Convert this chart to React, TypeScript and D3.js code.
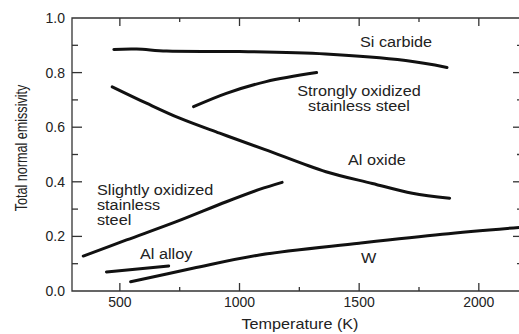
import * as d3 from "d3";
import { useRef, useEffect } from "react";

// series: [temperature K, emissivity]
const siCarbide = [[475, 0.885], [570, 0.886], [695, 0.879], [1000, 0.877], [1360, 0.868], [1694, 0.844], [1867, 0.819]];
const strongSteel = [[808, 0.675], [945, 0.724], [1111, 0.767], [1322, 0.800]];
const alOxide = [[468, 0.748], [611, 0.688], [750, 0.633], [917, 0.578], [1104, 0.519], [1361, 0.437], [1555, 0.394], [1722, 0.358], [1878, 0.340]];
const slightSteel = [[347, 0.128], [528, 0.187], [736, 0.254], [945, 0.327], [1083, 0.372], [1178, 0.398]];
const alAlloy = [[444, 0.070], [704, 0.092]];
const tungsten = [[545, 0.034], [805, 0.083], [1083, 0.132], [1500, 0.175], [1847, 0.208], [2170, 0.233]];

const xTicks = [500, 1000, 1500, 2000];
const xMinor = [750, 1250, 1750];
const yTicks = [0, 0.2, 0.4, 0.6, 0.8, 1.0];
const yMinor = [0.1, 0.3, 0.5, 0.7, 0.9];

const labels = [
  { lines: ["Si carbide"], x: 360, y: 47, anchor: "start" },
  { lines: ["Strongly oxidized", "stainless steel"], x: 359, y: 96, anchor: "middle" },
  { lines: ["Al oxide"], x: 348, y: 165, anchor: "start" },
  { lines: ["Slightly oxidized", "stainless", "steel"], x: 97, y: 195, anchor: "start" },
  { lines: ["Al alloy"], x: 140, y: 259, anchor: "start" },
  { lines: ["W"], x: 361, y: 263, anchor: "start" },
];

const width = 519;
const height = 334;

export default function App() {
  const ref = useRef(null);

  useEffect(() => {
    const svg = d3.select(ref.current);
    svg.selectAll("*").remove();

    const x = d3.scaleLinear().domain([300, 2170]).range([72, 519.5]);
    const y = d3.scaleLinear().domain([0, 1]).range([291, 18]);
    const axisColor = "#333";
    const font = "'Liberation Sans', Arial, sans-serif";

    const frame = svg.append("g");
    frame.append("path")
      .attr("d", `M${x.range()[1]},${y(1)}H${x(300)}V${y(0)}H${x.range()[1]}`)
      .attr("fill", "none")
      .attr("stroke", axisColor)
      .attr("stroke-width", 1.3);

    // x ticks, bottom and top, pointing in
    const xt = xTicks.map(d => ({ d, len: 8 })).concat(xMinor.map(d => ({ d, len: 4 })));
    frame.selectAll(".xb").data(xt).join("line")
      .attr("x1", t => x(t.d)).attr("x2", t => x(t.d))
      .attr("y1", y(0)).attr("y2", t => y(0) - t.len)
      .attr("stroke", axisColor).attr("stroke-width", 1.3);
    frame.selectAll(".xt").data(xt).join("line")
      .attr("x1", t => x(t.d)).attr("x2", t => x(t.d))
      .attr("y1", y(1)).attr("y2", t => y(1) + t.len)
      .attr("stroke", axisColor).attr("stroke-width", 1.3);

    const yt = yTicks.slice(1, 5).map(d => ({ d, len: 10 })).concat(yMinor.map(d => ({ d, len: 6 })));
    frame.selectAll(".yl").data(yt).join("line")
      .attr("x1", x(300)).attr("x2", t => x(300) + t.len)
      .attr("y1", t => y(t.d)).attr("y2", t => y(t.d))
      .attr("stroke", axisColor).attr("stroke-width", 1.3);
    frame.selectAll(".yr").data(yt).join("line")
      .attr("x1", 519).attr("x2", t => 519 - t.len + 4)
      .attr("y1", t => y(t.d)).attr("y2", t => y(t.d))
      .attr("stroke", axisColor).attr("stroke-width", 1.3);

    frame.selectAll(".xl").data(xTicks).join("text")
      .attr("x", d => x(d)).attr("y", 306.5)
      .attr("text-anchor", "middle")
      .style("font-family", font).style("font-size", "14px")
      .attr("fill", "#222")
      .text(d => d);

    frame.selectAll(".ylab").data(yTicks).join("text")
      .attr("x", 65).attr("y", d => y(d))
      .attr("dy", "0.36em")
      .attr("text-anchor", "end")
      .style("font-family", font).style("font-size", "14px")
      .attr("fill", "#222")
      .text(d => d.toFixed(1));

    frame.append("text")
      .attr("transform", "translate(300,329) scale(1.08,1)")
      .attr("text-anchor", "middle")
      .style("font-family", font).style("font-size", "15px")
      .attr("fill", "#222")
      .text("Temperature (K)");

    frame.append("text")
      .attr("transform", "translate(27,148) rotate(-90) scale(1,1.3)")
      .attr("text-anchor", "middle")
      .style("font-family", font).style("font-size", "12.6px")
      .attr("fill", "#222")
      .text("Total normal emissivity");

    const line = d3.line()
      .x(d => x(d[0]))
      .y(d => y(d[1]))
      .curve(d3.curveCatmullRom.alpha(0.5));

    const series = [siCarbide, strongSteel, alOxide, slightSteel, alAlloy, tungsten];
    svg.append("g").selectAll("path").data(series).join("path")
      .attr("d", d => line(d))
      .attr("fill", "none")
      .attr("stroke", "#111")
      .attr("stroke-width", 3)
      .attr("stroke-linecap", "round");

    const lab = svg.append("g").selectAll("g").data(labels).join("g");
    lab.each(function (l) {
      const g = d3.select(this);
      l.lines.forEach((t, i) => {
        g.append("text")
          .attr("transform", `translate(${l.x},${l.y + i * 14.8}) scale(1.12,1)`)
          .attr("text-anchor", l.anchor)
          .style("font-family", font).style("font-size", "14.5px")
          .attr("fill", "#222")
          .text(t);
      });
    });
  }, []);

  return (
    <svg
      ref={ref}
      width={width}
      height={height}
      style={{ position: "absolute", left: 0, top: 0, background: "#fff" }}
    >
    </svg>
  );
}
